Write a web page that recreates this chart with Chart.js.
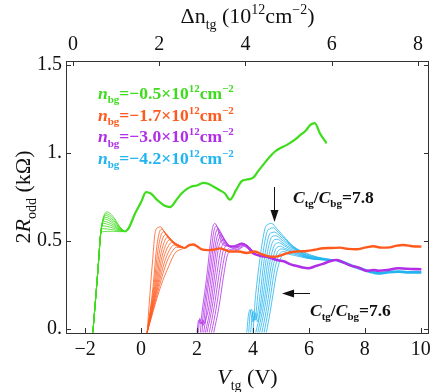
<!DOCTYPE html>
<html><head><meta charset="utf-8">
<script src="https://cdn.jsdelivr.net/npm/chart.js@4.4.0/dist/chart.umd.min.js"></script>
<style>html,body{margin:0;padding:0;background:#fff;}#wrap{width:436px;height:392px;}</style>
</head><body><div id="wrap"><canvas id="c" width="436" height="392"></canvas></div>
<script>
// ---------- DATA (Vtg [V], 2R_odd [kOhm]) ----------
const xTicks = [-2, 0, 2, 4, 6, 8, 10];
const yTicks = [0, 0.5, 1, 1.5];
const yTickLabels = ['0.', '0.5', '1.', '1.5'];
const topTicks = [0, 2, 4, 6, 8];
const legendValues = ['\u22120.5', '\u22121.7', '\u22123.0', '\u22124.2'];
const ratioLabels = ['7.8', '7.6'];

const greenFan = [
  [[-1.72,-0.02],[-1.53,0.354],[-1.44,0.544],[-1.22,0.665],[-0.99,0.638],[-0.75,0.580],[-0.57,0.553]],
  [[-1.72,-0.02],[-1.53,0.354],[-1.44,0.544],[-1.24,0.655],[-0.99,0.628],[-0.75,0.577],[-0.57,0.553]],
  [[-1.72,-0.02],[-1.53,0.354],[-1.44,0.544],[-1.26,0.645],[-0.99,0.618],[-0.75,0.574],[-0.57,0.553]],
  [[-1.72,-0.02],[-1.53,0.354],[-1.44,0.544],[-1.28,0.635],[-0.99,0.609],[-0.75,0.571],[-0.57,0.553]],
  [[-1.72,-0.02],[-1.53,0.354],[-1.44,0.544],[-1.30,0.625],[-0.99,0.600],[-0.75,0.568],[-0.57,0.553]],
  [[-1.72,-0.02],[-1.53,0.354],[-1.44,0.544],[-1.33,0.612],[-0.99,0.591],[-0.75,0.565],[-0.57,0.553]],
  [[-1.72,-0.02],[-1.53,0.354],[-1.44,0.544],[-1.35,0.600],[-0.99,0.582],[-0.75,0.562],[-0.57,0.553]],
  [[-1.72,-0.02],[-1.53,0.354],[-1.44,0.544],[-1.37,0.586],[-0.99,0.573],[-0.75,0.559],[-0.57,0.553]],
  [[-1.72,-0.02],[-1.53,0.354],[-1.44,0.544],[-1.40,0.570],[-0.99,0.564],[-0.75,0.556],[-0.57,0.553]],
  [[-1.72,-0.02],[-1.53,0.354],[-1.44,0.544],[-1.42,0.552],[-0.99,0.555],[-0.75,0.553],[-0.57,0.553]]
];
const greenTail = [[-0.57,0.553],[-0.45,0.57],[-0.2,0.66],[0.0,0.72],[0.18,0.778],[0.35,0.77],[0.6,0.73],[0.85,0.70],[1.04,0.693],[1.25,0.73],[1.45,0.77],[1.63,0.795],[1.81,0.81],[2.0,0.815],[2.23,0.83],[2.4,0.825],[2.58,0.81],[2.8,0.79],[3.0,0.77],[3.18,0.735],[3.4,0.79],[3.6,0.84],[3.8,0.85],[4.01,0.86],[4.2,0.9],[4.4,0.94],[4.61,0.98],[4.8,1.01],[5.0,1.03],[5.2,1.045],[5.45,1.07],[5.68,1.10],[5.9,1.13],[6.05,1.16],[6.21,1.17],[6.4,1.11],[6.63,1.055]];

const orangeFan = [
  [[0.22,-0.02],[0.32,0.2],[0.42,0.4],[0.50,0.543],[0.60,0.576],[0.70,0.58],[0.80,0.56],[0.92,0.53],[1.04,0.506],[1.2,0.48],[1.33,0.468],[1.57,0.46]],
  [[0.22,-0.02],[0.43,0.24],[0.55,0.45],[0.66,0.55],[0.76,0.567],[0.86,0.545],[1.04,0.505],[1.33,0.47],[1.57,0.46]],
  [[0.22,-0.02],[0.46,0.24],[0.60,0.44],[0.72,0.535],[0.83,0.553],[0.93,0.535],[1.1,0.5],[1.33,0.472],[1.57,0.46]],
  [[0.22,-0.02],[0.49,0.24],[0.65,0.43],[0.79,0.52],[0.90,0.538],[1.0,0.522],[1.15,0.495],[1.35,0.474],[1.57,0.46]],
  [[0.22,-0.02],[0.52,0.24],[0.70,0.42],[0.86,0.505],[0.97,0.523],[1.07,0.51],[1.2,0.49],[1.38,0.474],[1.57,0.46]],
  [[0.22,-0.02],[0.55,0.24],[0.75,0.41],[0.92,0.49],[1.04,0.508],[1.14,0.497],[1.26,0.484],[1.4,0.473],[1.57,0.46]],
  [[0.22,-0.02],[0.58,0.24],[0.80,0.40],[0.99,0.475],[1.11,0.493],[1.21,0.485],[1.32,0.477],[1.57,0.46]],
  [[0.22,-0.02],[0.61,0.24],[0.86,0.39],[1.06,0.46],[1.18,0.478],[1.28,0.474],[1.4,0.468],[1.57,0.46]],
  [[0.22,-0.02],[0.65,0.24],[0.92,0.38],[1.14,0.447],[1.27,0.465],[1.4,0.463],[1.57,0.46]],
  [[0.22,-0.02],[0.70,0.24],[1.0,0.36],[1.21,0.43],[1.39,0.45],[1.57,0.46]]
];
const orangeTail = [[1.57,0.46],[1.75,0.478],[1.87,0.48],[2.0,0.47],[2.17,0.452],[2.4,0.448],[2.58,0.45],[2.82,0.458],[3.0,0.45],[3.18,0.44],[3.5,0.44],[3.77,0.432],[4.07,0.44],[4.3,0.425],[4.5,0.415],[4.75,0.41],[4.95,0.415],[5.2,0.43],[5.56,0.44],[5.92,0.443],[6.2,0.45],[6.51,0.459],[6.8,0.46],[7.11,0.462],[7.4,0.455],[7.70,0.453],[8.0,0.462],[8.30,0.47],[8.6,0.462],[8.89,0.464],[9.1,0.472],[9.37,0.477],[9.7,0.47],[10.02,0.468]];

const purpleFan = [
  [[2.00,-0.02],[2.06,0.05],[2.12,0.03],[2.20,0.12],[2.35,0.30],[2.46,0.46],[2.55,0.57],[2.64,0.60],[2.74,0.57],[2.84,0.51],[2.94,0.478],[3.2,0.47],[3.5,0.48],[3.7,0.47],[3.9,0.445]],
  [[2.05,-0.02],[2.10,0.06],[2.17,0.03],[2.25,0.12],[2.40,0.30],[2.52,0.46],[2.61,0.56],[2.70,0.585],[2.80,0.555],[2.92,0.5],[3.05,0.475],[3.3,0.47],[3.55,0.485],[3.75,0.47],[3.9,0.445]],
  [[2.12,-0.02],[2.16,0.04],[2.22,0.02],[2.30,0.12],[2.45,0.30],[2.58,0.46],[2.67,0.545],[2.76,0.57],[2.86,0.545],[2.98,0.495],[3.1,0.475],[3.35,0.47],[3.55,0.487],[3.75,0.472],[3.9,0.445]],
  [[2.18,-0.02],[2.22,0.05],[2.27,0.03],[2.36,0.12],[2.51,0.30],[2.64,0.46],[2.73,0.53],[2.82,0.55],[2.92,0.528],[3.04,0.49],[3.15,0.472],[3.4,0.47],[3.58,0.488],[3.75,0.473],[3.9,0.445]],
  [[2.24,-0.02],[2.30,0.04],[2.42,0.12],[2.57,0.30],[2.70,0.46],[2.79,0.515],[2.88,0.53],[2.98,0.512],[3.1,0.482],[3.2,0.47],[3.42,0.468],[3.6,0.488],[3.78,0.473],[3.9,0.445]],
  [[2.30,-0.02],[2.48,0.12],[2.63,0.30],[2.77,0.46],[2.85,0.498],[2.94,0.51],[3.04,0.495],[3.15,0.475],[3.3,0.465],[3.45,0.468],[3.62,0.487],[3.8,0.472],[3.95,0.442]],
  [[2.36,-0.02],[2.54,0.12],[2.70,0.30],[2.85,0.45],[2.92,0.48],[3.0,0.49],[3.1,0.477],[3.2,0.465],[3.35,0.46],[3.5,0.47],[3.65,0.485],[3.82,0.47],[3.95,0.442]],
  [[2.44,-0.02],[2.61,0.12],[2.78,0.30],[2.93,0.44],[3.0,0.465],[3.06,0.475],[3.16,0.465],[3.3,0.458],[3.5,0.465],[3.67,0.482],[3.85,0.468],[4.0,0.44]],
  [[2.52,-0.02],[2.69,0.12],[2.86,0.30],[3.01,0.43],[3.07,0.448],[3.12,0.455],[3.22,0.45],[3.35,0.45],[3.52,0.46],[3.7,0.478],[3.87,0.465],[4.0,0.44]],
  [[2.60,-0.02],[2.78,0.12],[2.95,0.30],[3.08,0.415],[3.14,0.435],[3.18,0.44],[3.3,0.44],[3.5,0.452],[3.72,0.472],[3.9,0.46],[4.05,0.435]]
];
const purpleTail = [[3.9,0.445],[4.07,0.425],[4.3,0.415],[4.5,0.41],[4.7,0.40],[4.9,0.39],[5.1,0.385],[5.3,0.37],[5.5,0.36],[5.75,0.35],[5.98,0.345],[6.2,0.355],[6.5,0.37],[6.75,0.385],[6.99,0.392],[7.2,0.38],[7.5,0.36],[7.76,0.35],[8.06,0.33],[8.3,0.335],[8.48,0.331],[8.8,0.335],[9.19,0.345],[9.5,0.342],[10.02,0.339]];

const cyanFan = [
  [[3.78,-0.02],[3.84,0.08],[3.90,0.11],[3.96,0.06],[4.0,0.04],[4.1,0.2],[4.25,0.40],[4.43,0.57],[4.55,0.595],[4.67,0.60],[4.85,0.57],[5.08,0.53],[5.44,0.47],[5.92,0.43],[6.27,0.41],[6.6,0.40],[7.0,0.39]],
  [[3.85,-0.02],[3.90,0.09],[3.96,0.11],[4.02,0.05],[4.08,0.06],[4.18,0.2],[4.33,0.40],[4.50,0.55],[4.61,0.57],[4.72,0.575],[4.9,0.55],[5.12,0.515],[5.46,0.465],[5.92,0.425],[6.27,0.408],[6.6,0.398],[7.0,0.39]],
  [[3.92,-0.02],[3.98,0.08],[4.03,0.1],[4.08,0.05],[4.16,0.08],[4.26,0.2],[4.40,0.39],[4.57,0.53],[4.67,0.548],[4.77,0.55],[4.95,0.53],[5.16,0.5],[5.48,0.46],[5.92,0.42],[6.3,0.405],[6.6,0.397],[7.0,0.39]],
  [[4.00,-0.02],[4.05,0.07],[4.10,0.09],[4.16,0.04],[4.22,0.08],[4.32,0.2],[4.46,0.38],[4.63,0.51],[4.73,0.528],[4.82,0.53],[5.0,0.51],[5.2,0.485],[5.5,0.455],[5.92,0.417],[6.3,0.403],[6.6,0.396],[7.0,0.39]],
  [[4.10,-0.02],[4.28,0.1],[4.38,0.2],[4.52,0.37],[4.69,0.49],[4.78,0.508],[4.87,0.51],[5.04,0.492],[5.24,0.47],[5.52,0.45],[5.92,0.414],[6.3,0.4],[6.6,0.395],[7.0,0.39]],
  [[4.17,-0.02],[4.34,0.1],[4.44,0.2],[4.58,0.36],[4.75,0.47],[4.84,0.487],[4.92,0.49],[5.08,0.477],[5.28,0.458],[5.55,0.44],[5.92,0.41],[6.3,0.398],[7.0,0.39]],
  [[4.24,-0.02],[4.40,0.1],[4.50,0.2],[4.64,0.35],[4.81,0.452],[4.90,0.467],[4.98,0.47],[5.12,0.46],[5.32,0.447],[5.6,0.43],[5.95,0.407],[6.3,0.397],[7.0,0.39]],
  [[4.32,-0.02],[4.47,0.1],[4.57,0.2],[4.70,0.34],[4.87,0.435],[4.96,0.452],[5.04,0.455],[5.18,0.447],[5.38,0.437],[5.65,0.423],[5.95,0.405],[6.3,0.396],[7.0,0.39]],
  [[4.40,-0.02],[4.54,0.1],[4.64,0.2],[4.77,0.33],[4.93,0.42],[5.02,0.437],[5.09,0.44],[5.22,0.435],[5.42,0.428],[5.7,0.415],[5.98,0.403],[6.3,0.395],[7.0,0.39]],
  [[4.48,-0.02],[4.62,0.1],[4.72,0.2],[4.85,0.32],[5.0,0.405],[5.08,0.423],[5.14,0.43],[5.28,0.425],[5.48,0.418],[5.75,0.408],[6.0,0.4],[6.3,0.394],[7.0,0.39]]
];
const cyanTail = [[7.0,0.39],[7.3,0.375],[7.6,0.355],[7.9,0.34],[8.2,0.325],[8.48,0.316],[8.8,0.322],[9.19,0.326],[9.5,0.322],[10.02,0.322]];

// ---------- STYLE ----------
const COLORS = { green:'#3fdc1e', orange:'#ff5a1e', purple:'#b02ee6', cyan:'#20b4f0' };
const FAM = "'Liberation Serif', 'DejaVu Serif', serif";

const families = [
  { fan: greenFan, tail: greenTail, color: COLORS.green, tailW: 2.2 },
  { fan: orangeFan, tail: orangeTail, color: COLORS.orange, tailW: 2.4 },
  { fan: purpleFan, tail: purpleTail, color: COLORS.purple, tailW: 2.6 },
  { fan: cyanFan, tail: cyanTail, color: COLORS.cyan, tailW: 2.8 }
];
const toPts = arr => arr.map(p => ({ x: p[0], y: p[1] }));
const datasets = [];
families.forEach(f => {
  f.fan.forEach(c => datasets.push({ data: toPts(c), borderColor: f.color, borderWidth: 0.8, pointRadius: 0, fill: false, cubicInterpolationMode: 'monotone' }));
  datasets.push({ data: toPts(f.tail), borderColor: f.color, borderWidth: f.tailW, pointRadius: 0, fill: false, cubicInterpolationMode: 'monotone' });
});

function segFont(size, bold, italic) { return (italic ? 'italic ' : '') + (bold ? 'bold ' : '') + size + 'px ' + FAM; }
function drawRich(ctx, x, y, segs, size, bold, color, align) {
  const k = 0.65;
  const sz = s => s[1] === 'n' ? size : Math.round(size * k);
  const widths = segs.map(s => { ctx.font = segFont(sz(s), bold, s[2]); return ctx.measureText(s[0]).width; });
  const total = widths.reduce((a, b) => a + b, 0);
  let cx = align === 'center' ? x - total / 2 : x;
  ctx.fillStyle = color; ctx.textBaseline = 'alphabetic'; ctx.textAlign = 'left';
  segs.forEach((s, i) => {
    ctx.font = segFont(sz(s), bold, s[2]);
    const dy = s[1] === 'b' ? size * 0.25 : s[1] === 'p' ? -size * 0.4 : 0;
    ctx.fillText(s[0], cx, y + dy);
    cx += widths[i];
  });
}

const decor = {
  id: 'decor',
  afterDraw(chart) {
    const ctx = chart.ctx, a = chart.chartArea;
    const sx = chart.scales.x, sy = chart.scales.y, st = chart.scales.x2;
    ctx.save();
    ctx.strokeStyle = '#333'; ctx.lineWidth = 1;
    ctx.beginPath();
    xTicks.forEach(v => { const px = Math.round(sx.getPixelForValue(v)) + 0.5; ctx.moveTo(px, a.bottom); ctx.lineTo(px, a.bottom - 5); });
    topTicks.forEach(v => { const px = Math.round(st.getPixelForValue(v)) + 0.5; ctx.moveTo(px, a.top); ctx.lineTo(px, a.top + 5); });
    yTicks.forEach(v => { const py = Math.round(sy.getPixelForValue(v)) + 0.5; ctx.moveTo(a.left, py); ctx.lineTo(a.left + 5, py); ctx.moveTo(a.right, py); ctx.lineTo(a.right - 5, py); });
    ctx.stroke();

    drawRich(ctx, (a.left + a.right) / 2, 23, [['\u0394n','n',false],['tg','b',false],[' (10','n',false],['12','p',false],['cm','n',false],['\u22122','p',false],[')','n',false]], 22, false, '#111', 'center');
    drawRich(ctx, (a.left + a.right) / 2, 384, [['V','n',true],['tg','b',false],[' (V)','n',false]], 22, false, '#111', 'center');
    ctx.save();
    ctx.translate(30, (a.top + a.bottom) / 2);
    ctx.rotate(-Math.PI / 2);
    drawRich(ctx, 0, 0, [['2','n',false],['R','n',true],['odd','b',false],[' (k\u03A9)','n',false]], 22, false, '#111', 'center');
    ctx.restore();

    const legColors = [COLORS.green, COLORS.orange, COLORS.purple, COLORS.cyan];
    legendValues.forEach((v, i) => {
      drawRich(ctx, a.left + 32, a.top + 38 + i * 21.7, [['n','n',true],['bg','b',false],['=' + v + '\u00D710','n',false],['12','p',false],['cm','n',false],['\u22122','p',false]], 17.5, true, legColors[i], 'left');
    });

    const X = v => sx.getPixelForValue(v), Y = v => sy.getPixelForValue(v);
    const ratioSegs = r => [['C','n',true],['tg','b',false],['/','n',false],['C','n',true],['bg','b',false],['=' + r,'n',false]];
    drawRich(ctx, X(5.43), Y(0.716), ratioSegs(ratioLabels[0]), 17.5, true, '#111', 'left');
    drawRich(ctx, X(6.04), Y(0.074), ratioSegs(ratioLabels[1]), 17.5, true, '#111', 'left');
    ctx.strokeStyle = '#111'; ctx.fillStyle = '#111'; ctx.lineWidth = 1;
    let ax = Math.round(X(4.75)) + 0.5, ay0 = Y(0.807), ay1 = Y(0.608);
    ctx.beginPath(); ctx.moveTo(ax, ay0); ctx.lineTo(ax, ay1 - 8); ctx.stroke();
    ctx.beginPath(); ctx.moveTo(ax, ay1); ctx.lineTo(ax - 4, ay1 - 12); ctx.lineTo(ax + 4, ay1 - 12); ctx.closePath(); ctx.fill();
    let hy = Math.round(Y(0.205)) + 0.5, hx0 = X(6.04), hx1 = X(5.04);
    ctx.beginPath(); ctx.moveTo(hx0, hy); ctx.lineTo(hx1 + 8, hy); ctx.stroke();
    ctx.beginPath(); ctx.moveTo(hx1, hy); ctx.lineTo(hx1 + 12, hy - 4); ctx.lineTo(hx1 + 12, hy + 4); ctx.closePath(); ctx.fill();
    ctx.restore();
  }
};

function build() {
  const tickFont = { family: FAM, size: 20 };
  new Chart(document.getElementById('c'), {
    type: 'line',
    data: { datasets },
    options: {
      responsive: false, animation: false, devicePixelRatio: 1,
      layout: { padding: 0 },
      plugins: { legend: { display: false }, tooltip: { enabled: false } },
      elements: { line: { tension: 0 } },
      scales: {
        x: {
          type: 'linear', position: 'bottom', min: -2.68, max: 10.29,
          afterBuildTicks: s => { s.ticks = xTicks.map(v => ({ value: v })); },
          afterFit: s => { s.height = 59; },
          grid: { display: false, drawTicks: false },
          border: { display: true, color: '#333', width: 1 },
          ticks: { font: tickFont, color: '#111', padding: 5, autoSkip: false, maxRotation: 0,
            callback: v => (v < 0 ? '\u2212' + Math.abs(v) : String(v)) }
        },
        x2: {
          type: 'linear', axis: 'x', position: 'top', min: -0.162, max: 8.255,
          afterBuildTicks: s => { s.ticks = topTicks.map(v => ({ value: v })); },
          afterFit: s => { s.height = 61; },
          grid: { display: false, drawTicks: false },
          border: { display: true, color: '#333', width: 1 },
          ticks: { font: tickFont, color: '#111', padding: 4, autoSkip: false, maxRotation: 0 }
        },
        y: {
          type: 'linear', position: 'left', min: -0.023, max: 1.523,
          afterBuildTicks: s => { s.ticks = yTicks.map(v => ({ value: v })); },
          afterFit: s => { s.width = 66; },
          grid: { display: false, drawTicks: false },
          border: { display: true, color: '#333', width: 1 },
          ticks: { font: tickFont, color: '#111', padding: 4,
            callback: v => yTickLabels[yTicks.indexOf(v)] }
        },
        y2: {
          type: 'linear', axis: 'y', position: 'right', min: -0.023, max: 1.523,
          afterFit: s => { s.width = 7; },
          grid: { display: false, drawTicks: false },
          border: { display: true, color: '#333', width: 1 },
          ticks: { display: false }
        }
      }
    },
    plugins: [decor]
  });
}
const fontLoads = ['20px', 'italic 20px', 'bold 20px', 'italic bold 20px'].map(f => document.fonts.load(f + " 'Liberation Serif'").catch(() => null));
Promise.race([Promise.all(fontLoads), new Promise(r => setTimeout(r, 800))]).then(build);
</script></body></html>
